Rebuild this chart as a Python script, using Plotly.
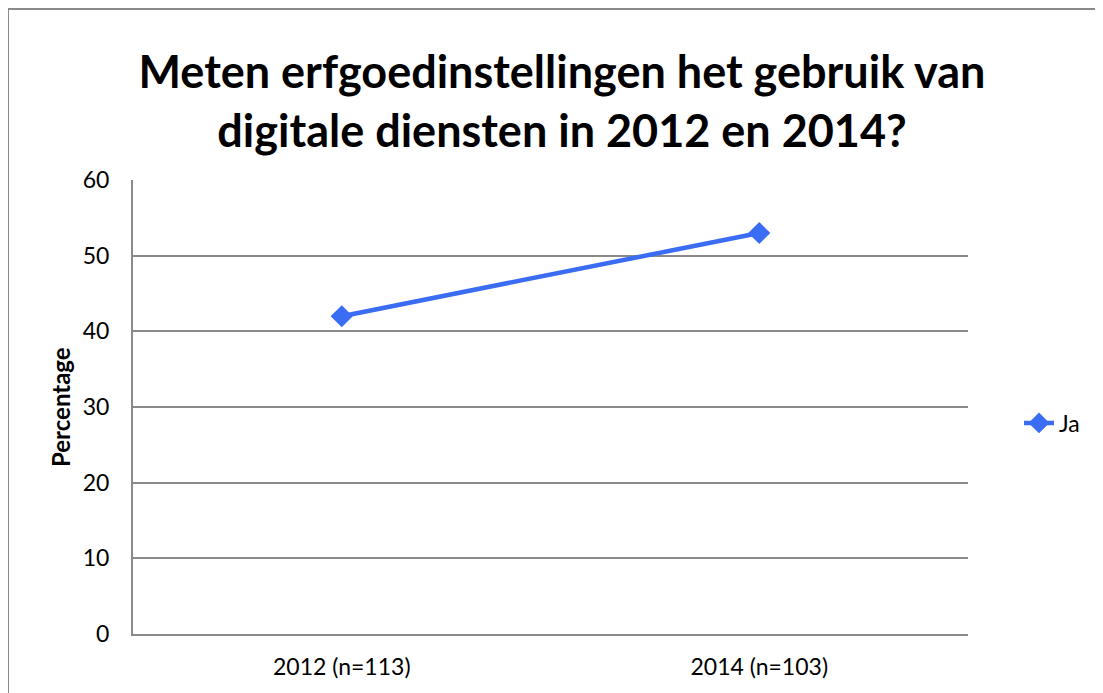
import plotly.graph_objects as go

categories = ["2012 (n=113)", "2014 (n=103)"]
ja_values = [42, 53]
series_name = "Ja"
y_ticks = [0, 10, 20, 30, 40, 50, 60]

OFF = 8  # page body margin offset
W, H = 1103, 693
L, R, T, B = 133 - OFF, 968 - OFF, 180 - OFF, 634 - OFF
pw, ph = R - L, B - T
FONT = "Lato, Carlito, sans-serif"

fig = go.Figure()
fig.add_trace(go.Scatter(
    x=categories, y=ja_values, name=series_name, mode="lines+markers",
    line=dict(color="#3a6cf4", width=4.5),
    marker=dict(symbol="diamond", size=17, color="#3a6cf4"),
))

fig.update_layout(
    width=W, height=H,
    margin=dict(l=L, r=W - R, t=T, b=H - B, autoexpand=False),
    paper_bgcolor="white", plot_bgcolor="white",
    font=dict(family=FONT, color="black", size=23),
    title=dict(
        text="<b>Meten erfgoedinstellingen het gebruik van<br>digitale diensten in 2012 en 2014?</b>",
        x=(562 - OFF) / W, xanchor="center", y=1 - (88 - OFF) / H, yanchor="middle",
        font=dict(size=45, family=FONT, color="black"),
    ),
    showlegend=True,
    legend=dict(x=(1019 - OFF - L) / pw, y=(B - (423 - OFF)) / ph, xanchor="left", yanchor="middle",
                font=dict(size=23), bgcolor="rgba(0,0,0,0)", itemwidth=30),
    xaxis=dict(range=[-0.5, 1.5], showgrid=False, showline=True, linecolor="#8a8a8a", linewidth=2,
               ticks="", ticklabelstandoff=11, tickfont=dict(size=23)),
    yaxis=dict(range=[0, 60], tickvals=y_ticks, showgrid=True, gridcolor="#8a8a8a",
               gridwidth=1.5, showline=True, linecolor="#8a8a8a", linewidth=2,
               zeroline=False, ticks="", ticklabelstandoff=17, tickfont=dict(size=23)),
    annotations=[dict(text="<b>Percentage</b>", xref="paper", yref="paper",
                      x=(60 - OFF - L) / pw, y=(B - (407 - OFF)) / ph,
                      xanchor="center", yanchor="middle", textangle=-90,
                      showarrow=False, font=dict(size=24, family=FONT, color="black"))],
    shapes=[dict(type="rect", xref="paper", yref="paper",
                 x0=(8 - OFF - L) / pw, x1=(W + 20 - L) / pw,
                 y0=(B - (H + 20)) / ph, y1=(B - (9 - OFF)) / ph,
                 line=dict(color="#8a8a8a", width=2), fillcolor="rgba(0,0,0,0)", layer="below")],
)

fig.write_html("out.html")
